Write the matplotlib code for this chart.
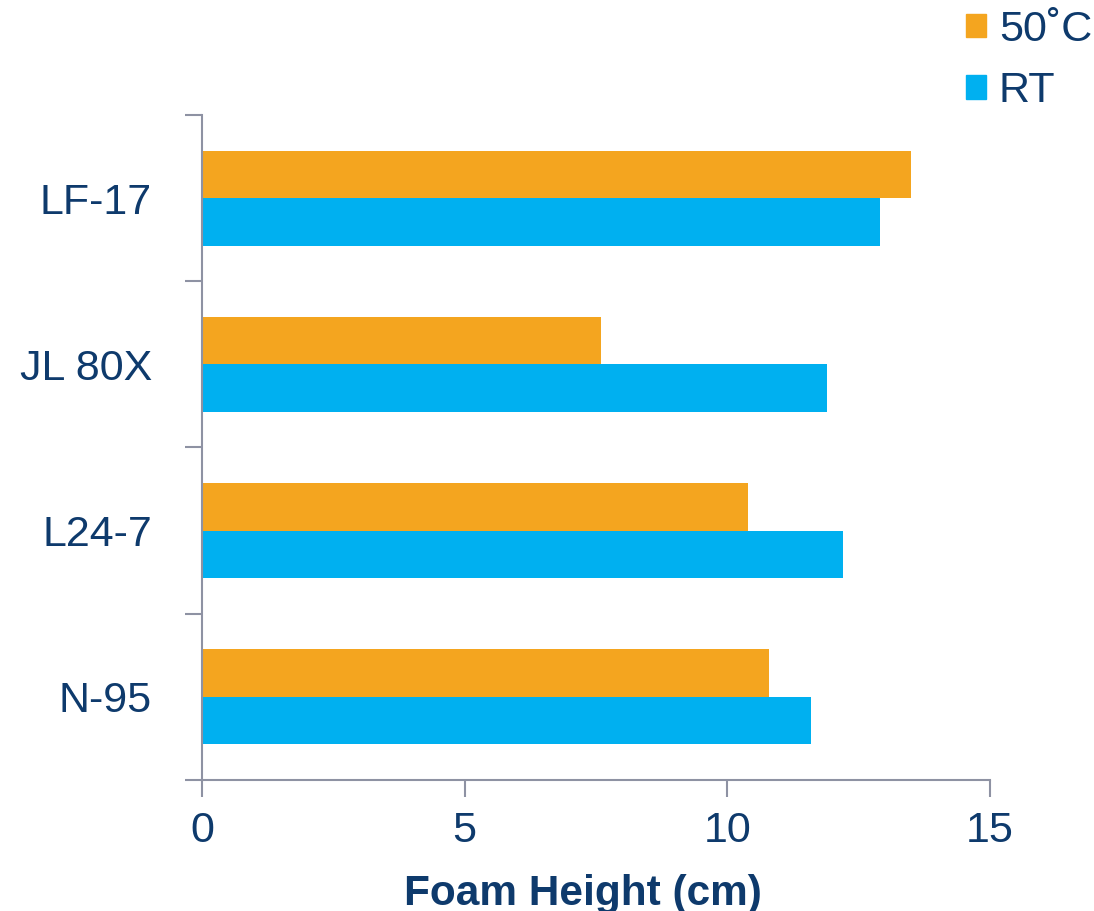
import matplotlib.pyplot as plt
import numpy as np
from matplotlib.patches import Patch

plt.rcParams['font.family'] = ['Liberation Sans', 'DejaVu Sans']

# Data
samples = ['LF-17', 'JL 80X', 'L24-7', 'N-95']
foam_50c = [13.5, 7.6, 10.4, 10.8]
foam_rt = [12.9, 11.9, 12.2, 11.6]

orange = '#F4A51F'
blue = '#00B0F0'
navy = '#0E3A6C'
axis_gray = '#8E92A3'

fig = plt.figure(figsize=(10.94, 9.11), dpi=100)
ax = fig.add_axes([0.1846, 0.1438, 0.7204, 0.73])

pos = np.arange(len(samples))[::-1]
h = 0.286
ax.barh(pos + h / 2, foam_50c, height=h, color=orange)
ax.barh(pos - h / 2, foam_rt, height=h, color=blue)

ax.set_xlim(0, 15)
ax.set_ylim(-0.5, len(samples) - 0.5)
ax.set_xticks([0, 5, 10, 15])
ax.set_yticks(pos)
ax.set_yticklabels(samples)
ax.set_yticks(np.arange(-0.5, len(samples), 1), minor=True)

ax.tick_params(axis='y', which='major', length=0, pad=36, labelsize=31, labelcolor=navy)
ax.tick_params(axis='y', which='minor', length=12, width=1.5, color=axis_gray)
ax.tick_params(axis='x', length=12, width=1.5, color=axis_gray, labelsize=31,
               labelcolor=navy, pad=10)

for side in ['top', 'right']:
    ax.spines[side].set_visible(False)
for side in ['left', 'bottom']:
    ax.spines[side].set_color(axis_gray)
    ax.spines[side].set_linewidth(1.5)

ax.set_xlabel('Foam Height (cm)', fontsize=30.5, fontweight='bold', color=navy, labelpad=17)
ax.xaxis.label.set_x(0.4835)

handles = [Patch(color=orange, label='50˚C'), Patch(color=blue, label='RT')]
fig.legend(handles=handles, loc='upper right', bbox_to_anchor=(1.018, 1.013), frameon=False,
           fontsize=31, handlelength=0.47, handleheight=0.47, handletextpad=0.3,
           labelspacing=0.5, labelcolor=navy, borderaxespad=0.1)

fig.savefig('out.png', dpi=100)
